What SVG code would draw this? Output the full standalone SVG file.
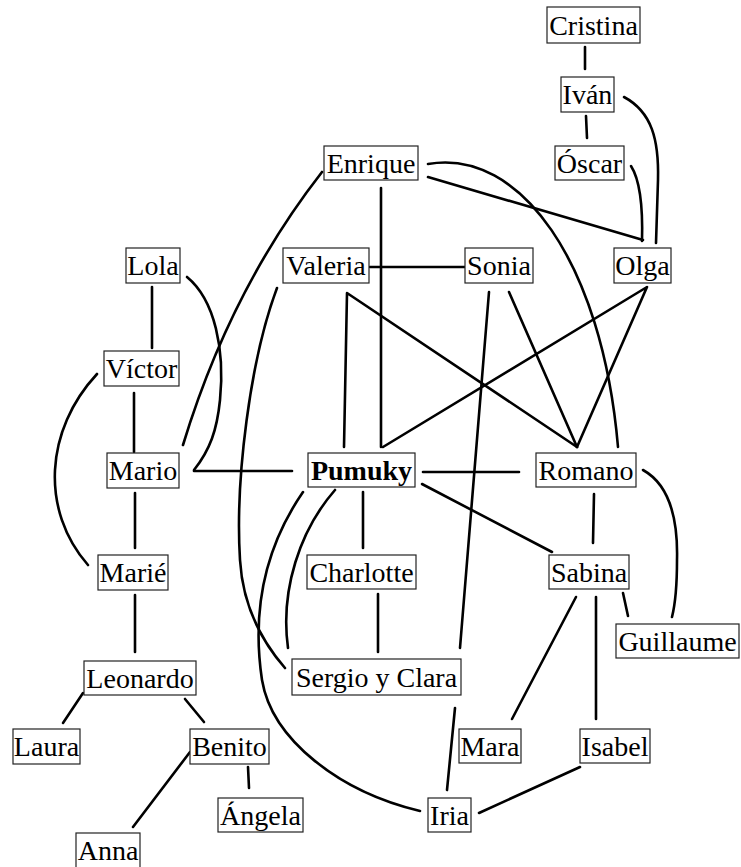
<svg xmlns="http://www.w3.org/2000/svg" width="741" height="867" viewBox="0 0 741 867">
<style>
.n rect{fill:#fff;stroke:#222;stroke-width:1.2}
.n text{font-family:"Liberation Serif","Times New Roman",serif;font-size:28px;fill:#000;text-anchor:middle}
#pumuky text{font-weight:bold}
.c path,.c line,.c polyline{fill:none;stroke:#000;stroke-width:2.6;stroke-linecap:round;stroke-linejoin:round}
</style>
<rect width="741" height="867" fill="#fff"/>
<g class="c" id="connectors">
<line x1="585" y1="47" x2="585" y2="69"/>
<line x1="586" y1="116" x2="587" y2="138"/>
<path d="M624,97 C652,112 659,140 658,180 L656,243"/>
<path d="M631,166 C640,180 643,205 642,241"/>
<line x1="428" y1="177" x2="643" y2="240"/>
<path d="M428,164 C520,148 602,262 618,447"/>
<path d="M322,172 Q230,290 183,445"/>
<line x1="381" y1="188" x2="381" y2="447"/>
<polyline points="344,447 347,293 577,447"/>
<line x1="370" y1="267" x2="465" y2="267"/>
<line x1="489" y1="292" x2="460" y2="648"/>
<line x1="455" y1="708" x2="447" y2="790"/>
<line x1="509" y1="292" x2="577" y2="447"/>
<polyline points="383,447 647,287 577,447"/>
<path d="M187,277 C215,300 225,350 220,400 C217,430 210,450 194,470"/>
<line x1="194" y1="471" x2="292" y2="471"/>
<line x1="152" y1="287" x2="152" y2="348"/>
<line x1="134" y1="393" x2="134" y2="452"/>
<path d="M97,374 C45,430 40,510 88,565"/>
<line x1="135" y1="493" x2="135" y2="548"/>
<line x1="135" y1="595" x2="135" y2="652"/>
<line x1="83" y1="693" x2="63" y2="723"/>
<line x1="185" y1="699" x2="204" y2="722"/>
<line x1="190" y1="752" x2="133" y2="827"/>
<line x1="248" y1="767" x2="249" y2="788"/>
<path d="M277,288 C250,360 235,480 240,560 C243,610 265,645 285,668"/>
<path d="M303,492 C270,540 250,600 262,680 C272,740 340,792 420,811"/>
<path d="M335,490 C300,530 280,590 288,648"/>
<line x1="363" y1="492" x2="363" y2="548"/>
<line x1="378" y1="594" x2="378" y2="652"/>
<line x1="423" y1="472" x2="519" y2="472"/>
<line x1="422" y1="484" x2="552" y2="552"/>
<line x1="594" y1="494" x2="593" y2="543"/>
<path d="M643,470 C670,485 678,520 677,560 C677,590 675,605 672,617"/>
<line x1="623" y1="593" x2="628" y2="616"/>
<line x1="576" y1="597" x2="512" y2="719"/>
<line x1="596" y1="597" x2="596" y2="719"/>
<line x1="580" y1="767" x2="479" y2="813"/>
</g>
<g class="n" id="cristina"><rect x="547" y="7" width="93" height="36"/><text x="593.5" y="35">Cristina</text></g>
<g class="n" id="ivan"><rect x="561" y="77" width="53" height="35"/><text x="587.5" y="104">Iván</text></g>
<g class="n" id="oscar"><rect x="555" y="146" width="69" height="34"/><text x="589.5" y="173">Óscar</text></g>
<g class="n" id="enrique"><rect x="324" y="146" width="94" height="34"/><text x="371" y="173">Enrique</text></g>
<g class="n" id="lola"><rect x="126" y="248" width="54" height="35"/><text x="153" y="275">Lola</text></g>
<g class="n" id="valeria"><rect x="283" y="248" width="86" height="35"/><text x="326" y="275">Valeria</text></g>
<g class="n" id="sonia"><rect x="465" y="248" width="68" height="35"/><text x="499" y="275">Sonia</text></g>
<g class="n" id="olga"><rect x="614" y="248" width="57" height="35"/><text x="642.5" y="275">Olga</text></g>
<g class="n" id="victor"><rect x="104" y="351" width="75" height="35"/><text x="141.5" y="378">Víctor</text></g>
<g class="n" id="mario"><rect x="107" y="453" width="72" height="35"/><text x="143" y="480">Mario</text></g>
<g class="n" id="pumuky"><rect x="308" y="453" width="107" height="34"/><text x="361.5" y="480">Pumuky</text></g>
<g class="n" id="romano"><rect x="536" y="453" width="100" height="34"/><text x="586" y="480">Romano</text></g>
<g class="n" id="marie"><rect x="98" y="555" width="70" height="35"/><text x="133" y="582">Marié</text></g>
<g class="n" id="charlotte"><rect x="307" y="555" width="109" height="34"/><text x="361.5" y="582">Charlotte</text></g>
<g class="n" id="sabina"><rect x="549" y="555" width="80" height="34"/><text x="589" y="582">Sabina</text></g>
<g class="n" id="guillaume"><rect x="616" y="624" width="123" height="34"/><text x="677.5" y="651">Guillaume</text></g>
<g class="n" id="leonardo"><rect x="84" y="661" width="112" height="34"/><text x="140" y="688">Leonardo</text></g>
<g class="n" id="sergioyclara"><rect x="292" y="659" width="169" height="36"/><text x="376.5" y="687">Sergio y Clara</text></g>
<g class="n" id="laura"><rect x="13" y="729" width="67" height="35"/><text x="46.5" y="756">Laura</text></g>
<g class="n" id="benito"><rect x="190" y="729" width="79" height="35"/><text x="229.5" y="756">Benito</text></g>
<g class="n" id="mara"><rect x="459" y="729" width="62" height="34"/><text x="490" y="756">Mara</text></g>
<g class="n" id="isabel"><rect x="580" y="729" width="70" height="34"/><text x="615" y="756">Isabel</text></g>
<g class="n" id="angela"><rect x="218" y="798" width="85" height="34"/><text x="260.5" y="825">Ángela</text></g>
<g class="n" id="iria"><rect x="428" y="798" width="43" height="34"/><text x="449.5" y="825">Iria</text></g>
<g class="n" id="anna"><rect x="76" y="833" width="64" height="36"/><text x="108" y="860">Anna</text></g>
</svg>
